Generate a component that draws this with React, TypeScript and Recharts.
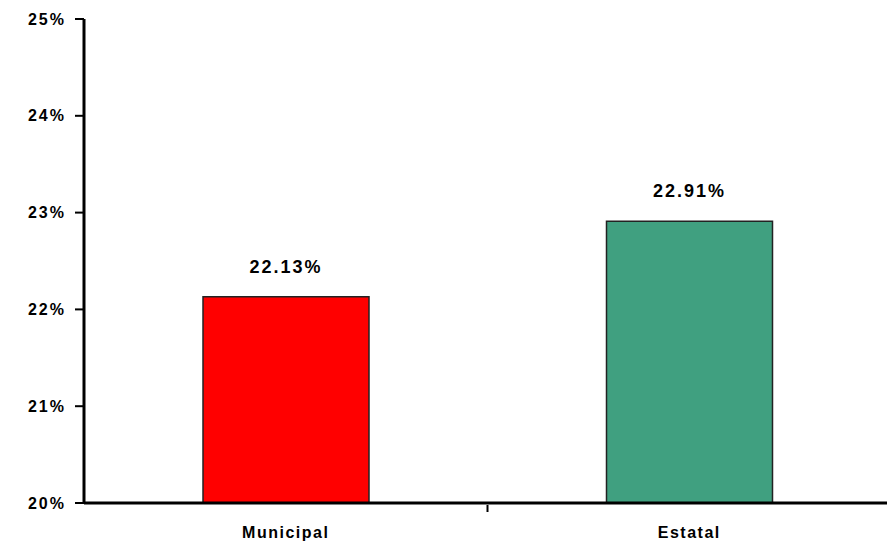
import React from "react";
import { BarChart, Bar, XAxis, YAxis, Cell, LabelList } from "recharts";

const categories = ["Municipal", "Estatal"];
const values = [22.13, 22.91];
const valueLabels = ["22.13%", "22.91%"];
const colors = ["#ff0000", "#40a080"];
const yTicks = [20, 21, 22, 23, 24, 25];

const data = categories.map((c, i) => ({ name: c, value: values[i], label: valueLabels[i] }));

const FONT = "'Liberation Sans', Arial, sans-serif";

const XTick = (props: any) => {
  const { x, y, payload, index } = props;
  const off = payload && payload.offset ? payload.offset : 0;
  return (
    <g>
      <text x={x} y={y + 27} textAnchor="middle" fontFamily={FONT} fontWeight="bold" fontSize={16} letterSpacing={1.5} fill="#000">
        {payload.value}
      </text>
      {index === 0 ? <line x1={x + off} x2={x + off} y1={y - 6} y2={y + 1} stroke="#000" strokeWidth={2} /> : null}
    </g>
  );
};

export default function App() {
  return (
    <div style={{ position: "absolute", left: 0, top: 0, width: 887, height: 553, overflow: "hidden", background: "#fff" }}>
      <BarChart width={891} height={553} data={data} margin={{ top: 19, right: 0, bottom: 0, left: 0 }} barSize={166}>
        <XAxis
          dataKey="name"
          height={50}
          tickLine={false}
          axisLine={{ stroke: "#000", strokeWidth: 3 }}
          tick={<XTick />}
          interval={0}
        />
        <YAxis
          width={84}
          domain={[20, 25]}
          ticks={yTicks}
          interval={0}
          tickFormatter={(v: number) => `${v}%`}
          axisLine={{ stroke: "#000", strokeWidth: 3 }}
          tickLine={{ stroke: "#000", strokeWidth: 2 }}
          tickSize={9}
          tickMargin={9}
          tick={{ fill: "#000", fontFamily: FONT, fontWeight: "bold", fontSize: 16, letterSpacing: 2 }}
        />
        <Bar dataKey="value" isAnimationActive={false} stroke="#222" strokeWidth={1.5}>
          {data.map((d, i) => (
            <Cell key={d.name} fill={colors[i]} />
          ))}
          <LabelList
            dataKey="label"
            position="top"
            offset={24}
            fill="#000"
            style={{ fontFamily: FONT, fontWeight: "bold", fontSize: 18, letterSpacing: 2 }}
          />
        </Bar>
      </BarChart>
    </div>
  );
}
